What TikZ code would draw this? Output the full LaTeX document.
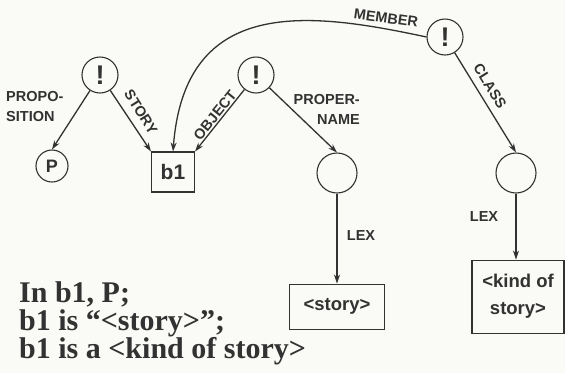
\documentclass[tikz,border=0pt]{standalone}
\usepackage{fontspec}
\setmainfont{Liberation Serif}
\setsansfont{Liberation Sans}
\usetikzlibrary{arrows.meta,backgrounds,positioning}
\definecolor{trait}{RGB}{50,50,50}
\definecolor{fond}{RGB}{250,250,246}

\begin{document}
\begin{tikzpicture}[%
    x=1pt,y=-1pt,%
    show background rectangle,%
    inner frame sep=0pt,%
    background rectangle/.style={fill=fond},%
    noeud/.style={circle,draw=trait,line width=1.1pt,inner sep=0pt,text=trait},%
    bang/.style={noeud,minimum size=36pt,font=\sffamily\bfseries\fontsize{27}{27}\selectfont},%
    cadre/.style={rectangle,draw=trait,line width=1.1pt,inner sep=0pt,text=trait,align=center},%
    lien/.style={draw=trait,line width=1.3pt,-{Stealth[length=9pt,width=6pt]}},%
    etiq/.style={font=\sffamily\bfseries\fontsize{14.5}{20}\selectfont,text=trait,inner sep=0pt},%
  ]
  \useasboundingbox (0,0) rectangle (565,373);%

  %
  % Définitions
  %
  \pgfmathsetmacro{\xp}{52};%
  \pgfmathsetmacro{\xa}{100};%
  \pgfmathsetmacro{\xb}{173};%
  \pgfmathsetmacro{\xo}{256};%
  \pgfmathsetmacro{\xn}{337};%
  \pgfmathsetmacro{\xm}{445};%
  \pgfmathsetmacro{\xc}{516};%

  \pgfmathsetmacro{\yhaut}{37};%
  \pgfmathsetmacro{\ybang}{75};%
  \pgfmathsetmacro{\ybas}{172};%

  %
  % Dessin
  %
  % Noeuds
  \node[bang] (prop) at (\xa,\ybang) {!};%
  \node[bang] (obj) at (\xo,\ybang) {!};%
  \node[bang] (memb) at (\xm,\yhaut) {!};%
  \node[noeud,minimum size=32pt,font=\sffamily\bfseries\fontsize{18}{18}\selectfont] (P) at (\xp,166) {P};%
  \node[cadre,minimum width=43pt,minimum height=40pt,font=\sffamily\bfseries\fontsize{21}{21}\selectfont] (b1) at (\xb,\ybas) {b1};%
  \node[noeud,minimum size=40pt] (nom) at (\xn,173) {};%
  \node[noeud,minimum size=40pt] (classe) at (\xc,173) {};%

  % Lexèmes
  \node[cadre,below=90pt of nom,minimum width=95pt,minimum height=45pt,font=\sffamily\bfseries\fontsize{18.5}{27}\selectfont] (story) {<story>};%
  \node[cadre,below=66pt of classe,xshift=2pt,minimum width=92pt,minimum height=73pt,font=\sffamily\bfseries\fontsize{18.5}{27}\selectfont] (kind) {<kind of\\story>};%

  % Arcs
  \draw[lien] (prop) -- (P.north);%
  \draw[lien] (prop) -- (b1.north west);%
  \draw[lien] (obj) -- (b1.north east);%
  \draw[lien] (memb.west) .. controls (310,12) and (185,-5) .. (b1.north);%
  \draw[lien] (obj) -- (nom.north);%
  \draw[lien] (memb) -- (classe.north);%
  \draw[lien] (nom) -- (nom |- story.north);%
  \draw[lien] (classe) -- (classe |- kind.north);%

  % Etiquettes
  \node[etiq,anchor=west,align=left] (lprop) at (6,107) {PROPO-\\SITION};%
  \node[etiq,rotate=-58] (lstory) at (141,112) {STORY};%
  \node[etiq,rotate=51] (lobj) at (215,115) {OBJECT};%
  \node[etiq,anchor=east,align=right] (lnom) at (360,109) {PROPER-\\NAME};%
  \node[etiq,rotate=-8] (lmemb) at (386,18) {MEMBER};%
  \node[etiq,rotate=-58] (lclasse) at (490,86) {CLASS};%
  \node[etiq] (llex) at (361,236) {LEX};%
  \node[etiq] (llexb) at (484,217) {LEX};%

  % Texte
  \node[anchor=north west,align=left,inner sep=0pt,text=trait,font=\bfseries\fontsize{30}{28}\selectfont] (phrase) at (19,281) {In b1, P;\\b1 is “<story>”;\\b1 is a <kind of story>};%

\end{tikzpicture}
\end{document}
